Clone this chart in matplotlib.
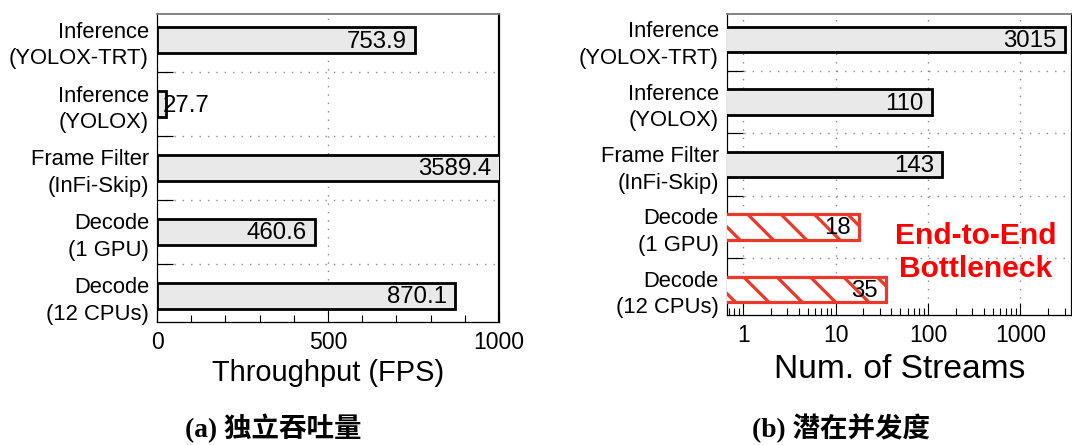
import numpy as np
import matplotlib
matplotlib.use("Agg")
import matplotlib.pyplot as plt
from matplotlib.ticker import MultipleLocator, FixedLocator, LogLocator, NullFormatter, FuncFormatter

# ---- data ----
stages = ["Inference\n(YOLOX-TRT)", "Inference\n(YOLOX)", "Frame Filter\n(InFi-Skip)",
          "Decode\n(1 GPU)", "Decode\n(12 CPUs)"]
throughput_fps = [753.9, 27.7, 3589.4, 460.6, 870.1]
num_streams = [3015, 110, 143, 18, 35]
bottleneck = [False, False, False, True, True]
caption_a = "(a) 独立吞吐量"
caption_b = "(b) 潜在并发度"
note_text = "End-to-End\nBottleneck"

# ---- canvas ----
DPI = 100
W, H = 1072, 445


def pt(px):
    """pixel length -> points at the figure dpi"""
    return px * 72.0 / DPI


SANS = ["Liberation Sans", "DejaVu Sans"]
plt.rcParams["font.family"] = SANS
plt.rcParams["hatch.linewidth"] = pt(3.2)

GREY_FILL = "#e8e9e8"
RED = "#e8392b"
GRID_KW = dict(color="#8a8a8a", linestyle=(0, (1, 5)), linewidth=pt(1.4))

fig = plt.figure(figsize=(W / DPI, H / DPI), dpi=DPI)


def add_axes(x0, x1, ytop, ybot):
    return fig.add_axes([x0 / W, 1 - ybot / H, (x1 - x0) / W, (ybot - ytop) / H])


ax_a = add_axes(157, 499, 14, 322)
ax_b = add_axes(727, 1072, 14, 315)

ypos = np.arange(len(stages))
BAR_H = 0.41


def style_common(ax):
    ax.set_ylim(len(stages) - 0.59, -0.41)
    ax.set_yticks(ypos)
    ax.set_yticklabels(stages, fontsize=pt(22), linespacing=1.35)
    ax.yaxis.set_minor_locator(FixedLocator(ypos[:-1] + 0.5))
    ax.tick_params(axis="y", which="major", length=0, pad=pt(8))
    ax.tick_params(axis="y", which="minor", direction="in", length=pt(16),
                   width=pt(1.2), color="black", left=True, right=False)
    ax.tick_params(axis="x", which="both", direction="in", top=False,
                   labelsize=pt(23), width=pt(1.1))
    ax.tick_params(axis="x", which="major", length=pt(12), pad=pt(9))
    ax.tick_params(axis="x", which="minor", length=pt(7))
    ax.grid(True, axis="y", which="minor", **GRID_KW)
    ax.grid(True, axis="x", which="major", **GRID_KW)
    ax.set_axisbelow(True)
    ax.spines["top"].set_color("#7a7a7a")
    ax.spines["top"].set_linewidth(pt(1.8))
    ax.spines["right"].set_linewidth(pt(2.2))
    ax.spines["left"].set_linewidth(pt(1.2))
    ax.spines["bottom"].set_linewidth(pt(1.3))


def value_labels(ax, values, xmax, small_limit):
    for y, v in zip(ypos, values):
        txt = f"{v:g}"
        if v < small_limit:
            ax.annotate(txt, (v, y), xytext=(pt(-4), pt(-1.5)), textcoords="offset points",
                        ha="left", va="center", fontsize=pt(24), zorder=5)
        else:
            ax.annotate(txt, (min(v, xmax), y), xytext=(pt(-8), pt(-1.5)),
                        textcoords="offset points", ha="right", va="center",
                        fontsize=pt(24), zorder=5)


# ---- (a) standalone throughput ----
XMAX_A = 1000
style_common(ax_a)
ax_a.barh(ypos, throughput_fps, height=BAR_H, color=GREY_FILL, edgecolor="black",
          linewidth=pt(2.8), zorder=3)
ax_a.set_xlim(0, XMAX_A)
ax_a.xaxis.set_major_locator(MultipleLocator(500))
ax_a.xaxis.set_minor_locator(MultipleLocator(100))
value_labels(ax_a, throughput_fps, XMAX_A, 60)
ax_a.set_xlabel("Throughput (FPS)", fontsize=pt(29), va="center")
ax_a.xaxis.set_label_coords(0.5, (322 - 373) / 308)

# ---- (b) potential concurrency ----
XLIM_B = (0.667, 3614)
style_common(ax_b)
ax_b.set_xscale("log")
for y, v, hot in zip(ypos, num_streams, bottleneck):
    if hot:
        ax_b.barh(y, v, height=BAR_H, color="white", edgecolor=RED, hatch="\\",
                  linewidth=pt(3.2), zorder=3)
    else:
        ax_b.barh(y, v, height=BAR_H, color=GREY_FILL, edgecolor="black",
                  linewidth=pt(2.8), zorder=3)
ax_b.set_xlim(*XLIM_B)
ax_b.xaxis.set_major_locator(LogLocator(base=10, numticks=10))
ax_b.xaxis.set_minor_locator(LogLocator(base=10, subs=np.arange(2, 10), numticks=30))
ax_b.xaxis.set_minor_formatter(NullFormatter())
ax_b.xaxis.set_major_formatter(FuncFormatter(lambda v, _: f"{v:g}"))
value_labels(ax_b, num_streams, XLIM_B[1], 0)
ax_b.set_xlabel("Num. of Streams", fontsize=pt(33.5), va="center")
ax_b.xaxis.set_label_coords(0.5, (315 - 370) / 301)
ax_b.text(0.722, 0.209, note_text, transform=ax_b.transAxes, ha="center", va="center",
          multialignment="center", color="#ff0000", fontsize=pt(30),
          fontweight="bold", linespacing=1.23, zorder=6)

# ---- captions ----
CAP_FONT = ["Liberation Serif", "Noto Sans CJK SC", "DejaVu Serif"]
fig.text(273 / W, 1 - 428 / H, caption_a, ha="center", va="center",
         family=CAP_FONT, fontweight="bold", fontsize=pt(27.5))
fig.text(841 / W, 1 - 428 / H, caption_b, ha="center", va="center",
         family=CAP_FONT, fontweight="bold", fontsize=pt(27.5))

fig.savefig("out.png", dpi=DPI, facecolor="white")
